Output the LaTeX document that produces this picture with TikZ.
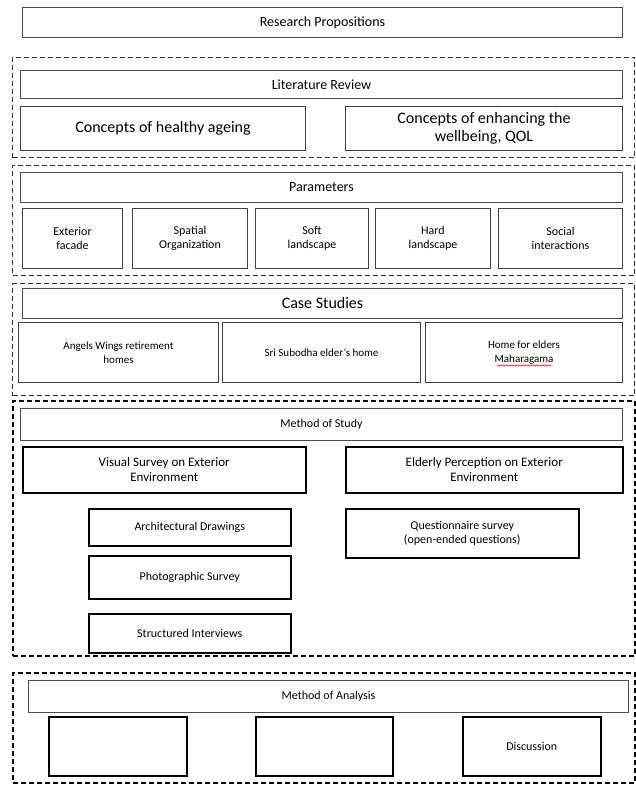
\documentclass[tikz,border=0pt]{standalone}
\usepackage{fontspec}
\setmainfont{Carlito}
\usetikzlibrary{calc,positioning,decorations.pathmorphing}
\tikzset{%
  font=\fontsize{12}{14}\selectfont,
  bar/.style    = { rectangle, draw=black!70, line width=1pt, anchor=north west, align=center, inner sep=2pt },
  block/.style  = { rectangle, draw=black!75, line width=1pt, anchor=north west, align=center, inner sep=2pt },
  frame/.style  = { rectangle, draw=black!80, dash pattern=on 5pt off 3pt, line width=1pt, anchor=north west, inner sep=0pt },
  heavy/.style  = { draw=black, line width=1.5pt },
  spell/.style  = { draw=red, line width=.6pt, decorate, decoration={snake,amplitude=.6pt,segment length=3pt} }
}

\begin{document}
\begin{tikzpicture}[x=1pt,y=-1pt]
	\useasboundingbox (0,0) rectangle (636,789);
	
	\node[bar,minimum width=600pt,minimum height=30pt,font=\fontsize{14}{16}\selectfont] (prop) at (22,7) {Research Propositions};
	
	% literature review
	\node[frame,minimum width=622pt,minimum height=100pt] (litframe) at (12,57) {};
	\node[bar,minimum width=602pt,minimum height=28pt,font=\fontsize{14}{16}\selectfont] (lit) at (20,70) {Literature Review};
	\node[block,minimum width=285pt,minimum height=44pt,font=\fontsize{16}{18}\selectfont] (ageing) at (20,106) {Concepts of healthy ageing};
	\node[block,minimum width=277pt,minimum height=44pt,font=\fontsize{16}{18}\selectfont] (wellbeing) at (345,106) {Concepts of enhancing the\\wellbeing, QOL};
	
	% parameters
	\node[frame,minimum width=622pt,minimum height=110pt] (parframe) at (12,165) {};
	\node[bar,minimum width=602pt,minimum height=30pt,font=\fontsize{14}{16}\selectfont] (par) at (20,172) {Parameters};
	\node[block,minimum width=100pt,minimum height=60pt] (facade) at (22,208) {Exterior\\facade};
	\node[block,minimum width=115pt,minimum height=60pt] (spatial) at (132,208) {Spatial\\Organization};
	\node[block,minimum width=113pt,minimum height=60pt] (soft) at (255,208) {Soft\\landscape};
	\node[block,minimum width=115pt,minimum height=60pt] (hard) at (375,208) {Hard\\landscape};
	\node[block,minimum width=124pt,minimum height=60pt] (social) at (498,208) {Social\\interactions};
	
	% case studies
	\node[frame,minimum width=622pt,minimum height=112pt] (caseframe) at (12,283) {};
	\node[bar,minimum width=600pt,minimum height=30pt,font=\fontsize{16}{18}\selectfont] (cases) at (22,288) {Case Studies};
	\node[block,minimum width=200pt,minimum height=60pt,font=\fontsize{11}{14}\selectfont] (angels) at (18,322) {Angels Wings retirement\\homes};
	\node[block,minimum width=198pt,minimum height=60pt,font=\fontsize{11}{14}\selectfont] (subodha) at (222,322) {Sri Subodha elder's home};
	\node[block,minimum width=197pt,minimum height=60pt,font=\fontsize{11}{14}\selectfont] (elders) at (425,322) {Home for elders\\Maharagama};
	\draw[spell] ($(elders.center)+(-27,13)$) -- ($(elders.center)+(27,13)$);
	
	% method of study
	\node[frame,heavy,minimum width=622pt,minimum height=255pt] (methframe) at (12,400) {};
	\node[bar,minimum width=602pt,minimum height=32pt] (method) at (20,408) {Method of Study};
	\node[block,heavy,minimum width=283pt,minimum height=46pt,font=\fontsize{13}{15}\selectfont] (visual) at (22,446) {Visual Survey on Exterior\\Environment};
	\node[block,heavy,minimum width=277pt,minimum height=46pt,font=\fontsize{13}{15}\selectfont] (elderly) at (345,446) {Elderly Perception on Exterior\\Environment};
	\node[block,heavy,minimum width=202pt,minimum height=37pt] (drawings) at (88,508) {Architectural Drawings};
	\node[block,heavy,minimum width=202pt,minimum height=43pt] (photo) at (88,555) {Photographic Survey};
	\node[block,heavy,minimum width=202pt,minimum height=39pt] (interview) at (88,613) {Structured Interviews};
	\node[block,heavy,minimum width=233pt,minimum height=49pt] (quest) at (345,508) {Questionnaire survey\\(open-ended questions)};
	
	% method of analysis
	\node[frame,heavy,minimum width=622pt,minimum height=110pt] (anframe) at (12,672) {};
	\node[bar,minimum width=600pt,minimum height=32pt] (analysis) at (28,680) {Method of Analysis};
	\node[block,heavy,minimum width=138pt,minimum height=59pt] (boxa) at (48,716) {};
	\node[block,heavy,minimum width=137pt,minimum height=59pt] (boxb) at (255,716) {};
	\node[block,heavy,minimum width=138pt,minimum height=59pt] (discuss) at (462,716) {Discussion};
\end{tikzpicture}
\end{document}
